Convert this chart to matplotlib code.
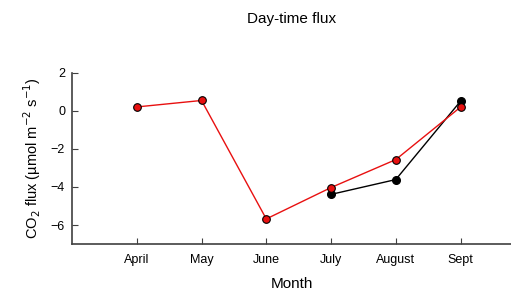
import numpy as np
import matplotlib.pyplot as plt

plt.rcParams['font.family'] = ['Liberation Sans', 'DejaVu Sans']

months = ['April', 'May', 'June', 'July', 'August', 'Sept']
red_flux = [0.21, 0.55, -5.68, -4.03, -2.56, 0.2]
black_months = ['July', 'August', 'Sept']
black_flux = [-4.39, -3.61, 0.51]

x = np.arange(1, len(months) + 1)
xb = [months.index(m) + 1 for m in black_months]

fig = plt.figure(figsize=(5.11, 2.94), dpi=100)
ax = fig.add_axes([0.141, 0.170, 0.859, 0.582])

ax.plot(xb, black_flux, color='black', lw=1, marker='o', ms=5.5,
        mfc='black', mec='black', zorder=2)
ax.plot(x, red_flux, color='#e81010', lw=1, marker='o', ms=5.5,
        mfc='#e81010', mec='black', mew=0.8, zorder=3)

ax.set_xlim(0, 6.78)
ax.set_ylim(-7, 2)
ax.set_xticks(x)
ax.set_xticklabels(months)
ax.set_yticks([2, 0, -2, -4, -6])
ax.tick_params(direction='in', length=4, width=0.8, labelsize=9, colors='#404040')
ax.tick_params(axis='x', pad=7)
ax.tick_params(axis='y', pad=5)
ax.tick_params(labelcolor='black')
for s in ['top', 'right']:
    ax.spines[s].set_visible(False)
for s in ['left', 'bottom']:
    ax.spines[s].set_color('#404040')
    ax.spines[s].set_linewidth(1.2)

ax.set_xlabel('Month', fontsize=11, labelpad=8)
ax.set_ylabel('CO$_2$ flux (\u00b5mol m$^{-2}$ s$^{-1}$)', fontsize=10.5, labelpad=6)
fig.text(0.57, 0.935, 'Day-time flux', ha='center', va='center', fontsize=11)

fig.savefig('out.png', dpi=100)
